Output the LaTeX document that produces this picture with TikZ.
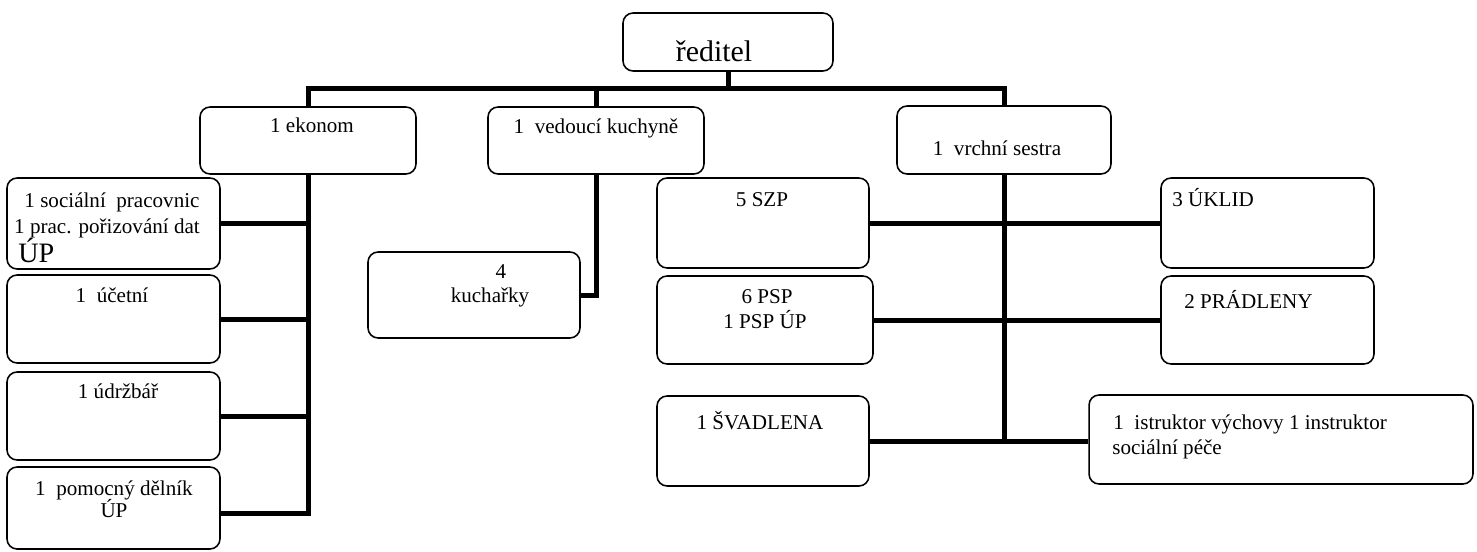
\documentclass[tikz,border=0pt]{standalone}
\usepackage{fontspec}
\setmainfont{Liberation Serif}
\usetikzlibrary{positioning}

\tikzset{
  box/.style={draw, rounded corners=0.2cm, line width=0.9pt, inner sep=0pt},
  conn/.style={line width=0.1cm},
  txt/.style={anchor=base, inner sep=0pt},
  txtl/.style={anchor=base west, inner sep=0pt}
}

\begin{document}
\begin{tikzpicture}[x=0.02cm, y=-0.02cm, font=\fontsize{12}{14}\selectfont]
  \useasboundingbox (0,0) rectangle (1477,551);

  % boxes
  \node[box, minimum width=4.2cm, minimum height=1.16cm] (red) at (728,42) {};
  \node[box, minimum width=4.32cm, minimum height=1.34cm] (eko) at (308,140.5) {};
  \node[box, minimum width=4.32cm, minimum height=1.34cm] (kuch) at (596,140.5) {};
  \node[box, minimum width=4.28cm, minimum height=1.36cm] (vrs) at (1004,140) {};

  \node[box, minimum width=4.26cm, minimum height=1.82cm] (soc) at (113.5,223.5) {};
  \node[box, minimum width=4.26cm, minimum height=1.76cm] (uce) at (113.5,319) {};
  \node[box, minimum width=4.26cm, minimum height=1.76cm] (udr) at (113.5,416) {};
  \node[box, minimum width=4.26cm, minimum height=1.64cm] (pom) at (113.5,508) {};

  \node[box, minimum width=4.24cm, minimum height=1.72cm] (kr) at (474,295) {};

  \node[box, minimum width=4.24cm, minimum height=1.8cm] (szp) at (763,223) {};
  \node[box, minimum width=4.26cm, minimum height=1.8cm] (ukl) at (1267.5,223) {};
  \node[box, minimum width=4.32cm, minimum height=1.76cm] (psp) at (765,320) {};
  \node[box, minimum width=4.26cm, minimum height=1.76cm] (pra) at (1267.5,320) {};
  \node[box, minimum width=4.24cm, minimum height=1.8cm] (sva) at (763,441) {};
  \node[box, minimum width=7.68cm, minimum height=1.78cm] (ins) at (1281,439.5) {};

  % texts
  \node[txt, font=\fontsize{17}{20}\selectfont] (t-red) at (714,61) {ředitel};
  \node[txt] (t-eko) at (312,132) {1 ekonom};
  \node[txt] (t-kuch) at (596,133) {1~~vedoucí kuchyně};
  \node[txt] (t-vrs) at (997,155) {1~~vrchní sestra};

  \node[txt] (t-soc1) at (112,207) {1 sociální~~pracovnic};
  \node[txt] (t-soc2) at (107,233) {1 prac. pořizování dat};
  \node[txtl, font=\fontsize{16}{19}\selectfont] (t-soc3) at (18,262) {ÚP};
  \node[txt] (t-uce) at (112,302) {1~~účetní};
  \node[txt] (t-udr) at (118,398) {1 údržbář};
  \node[txt] (t-pom1) at (114,495) {1~~pomocný dělník};
  \node[txt] (t-pom2) at (114,517) {ÚP};

  \node[txt] (t-kr1) at (501,278) {4};
  \node[txt] (t-kr2) at (490,302) {kuchařky};

  \node[txt] (t-szp) at (762,206) {5 SZP};
  \node[txtl] (t-ukl) at (1172,206) {3 ÚKLID};
  \node[txt] (t-psp1) at (767,303) {6 PSP};
  \node[txt] (t-psp2) at (765,328) {1 PSP ÚP};
  \node[txtl] (t-pra) at (1184,308) {2 PRÁDLENY};
  \node[txt] (t-sva) at (760,429) {1 ŠVADLENA};
  \node[txtl] (t-ins1) at (1113,429) {1~~istruktor výchovy 1 instruktor};
  \node[txtl] (t-ins2) at (1112,454) {sociální péče};

  % connectors
  \draw[conn] (red.south) -- ++(0,17) coordinate (bus);
  \draw[conn] (eko.north) -- (eko.north |- bus) -- (vrs.north |- bus) -- (vrs.north);
  \draw[conn] (kuch.north) -- (kuch.north |- bus);

  \draw[conn] (eko.south) |- ([yshift=-0.1cm]pom.east);
  \draw[conn] (soc.east) -- (eko.south |- soc.east);
  \draw[conn] (uce.east) -- (eko.south |- uce.east);
  \draw[conn] (udr.east) -- (eko.south |- udr.east);

  \draw[conn] (kuch.south) |- (kr.east);

  \draw[conn] (vrs.south) -- (vrs.south |- sva.east);
  \draw[conn] (szp.east) -- (ukl.west);
  \draw[conn] (psp.east) -- (pra.west);
  \draw[conn] (sva.east) -- (sva.east -| ins.west);
\end{tikzpicture}
\end{document}
